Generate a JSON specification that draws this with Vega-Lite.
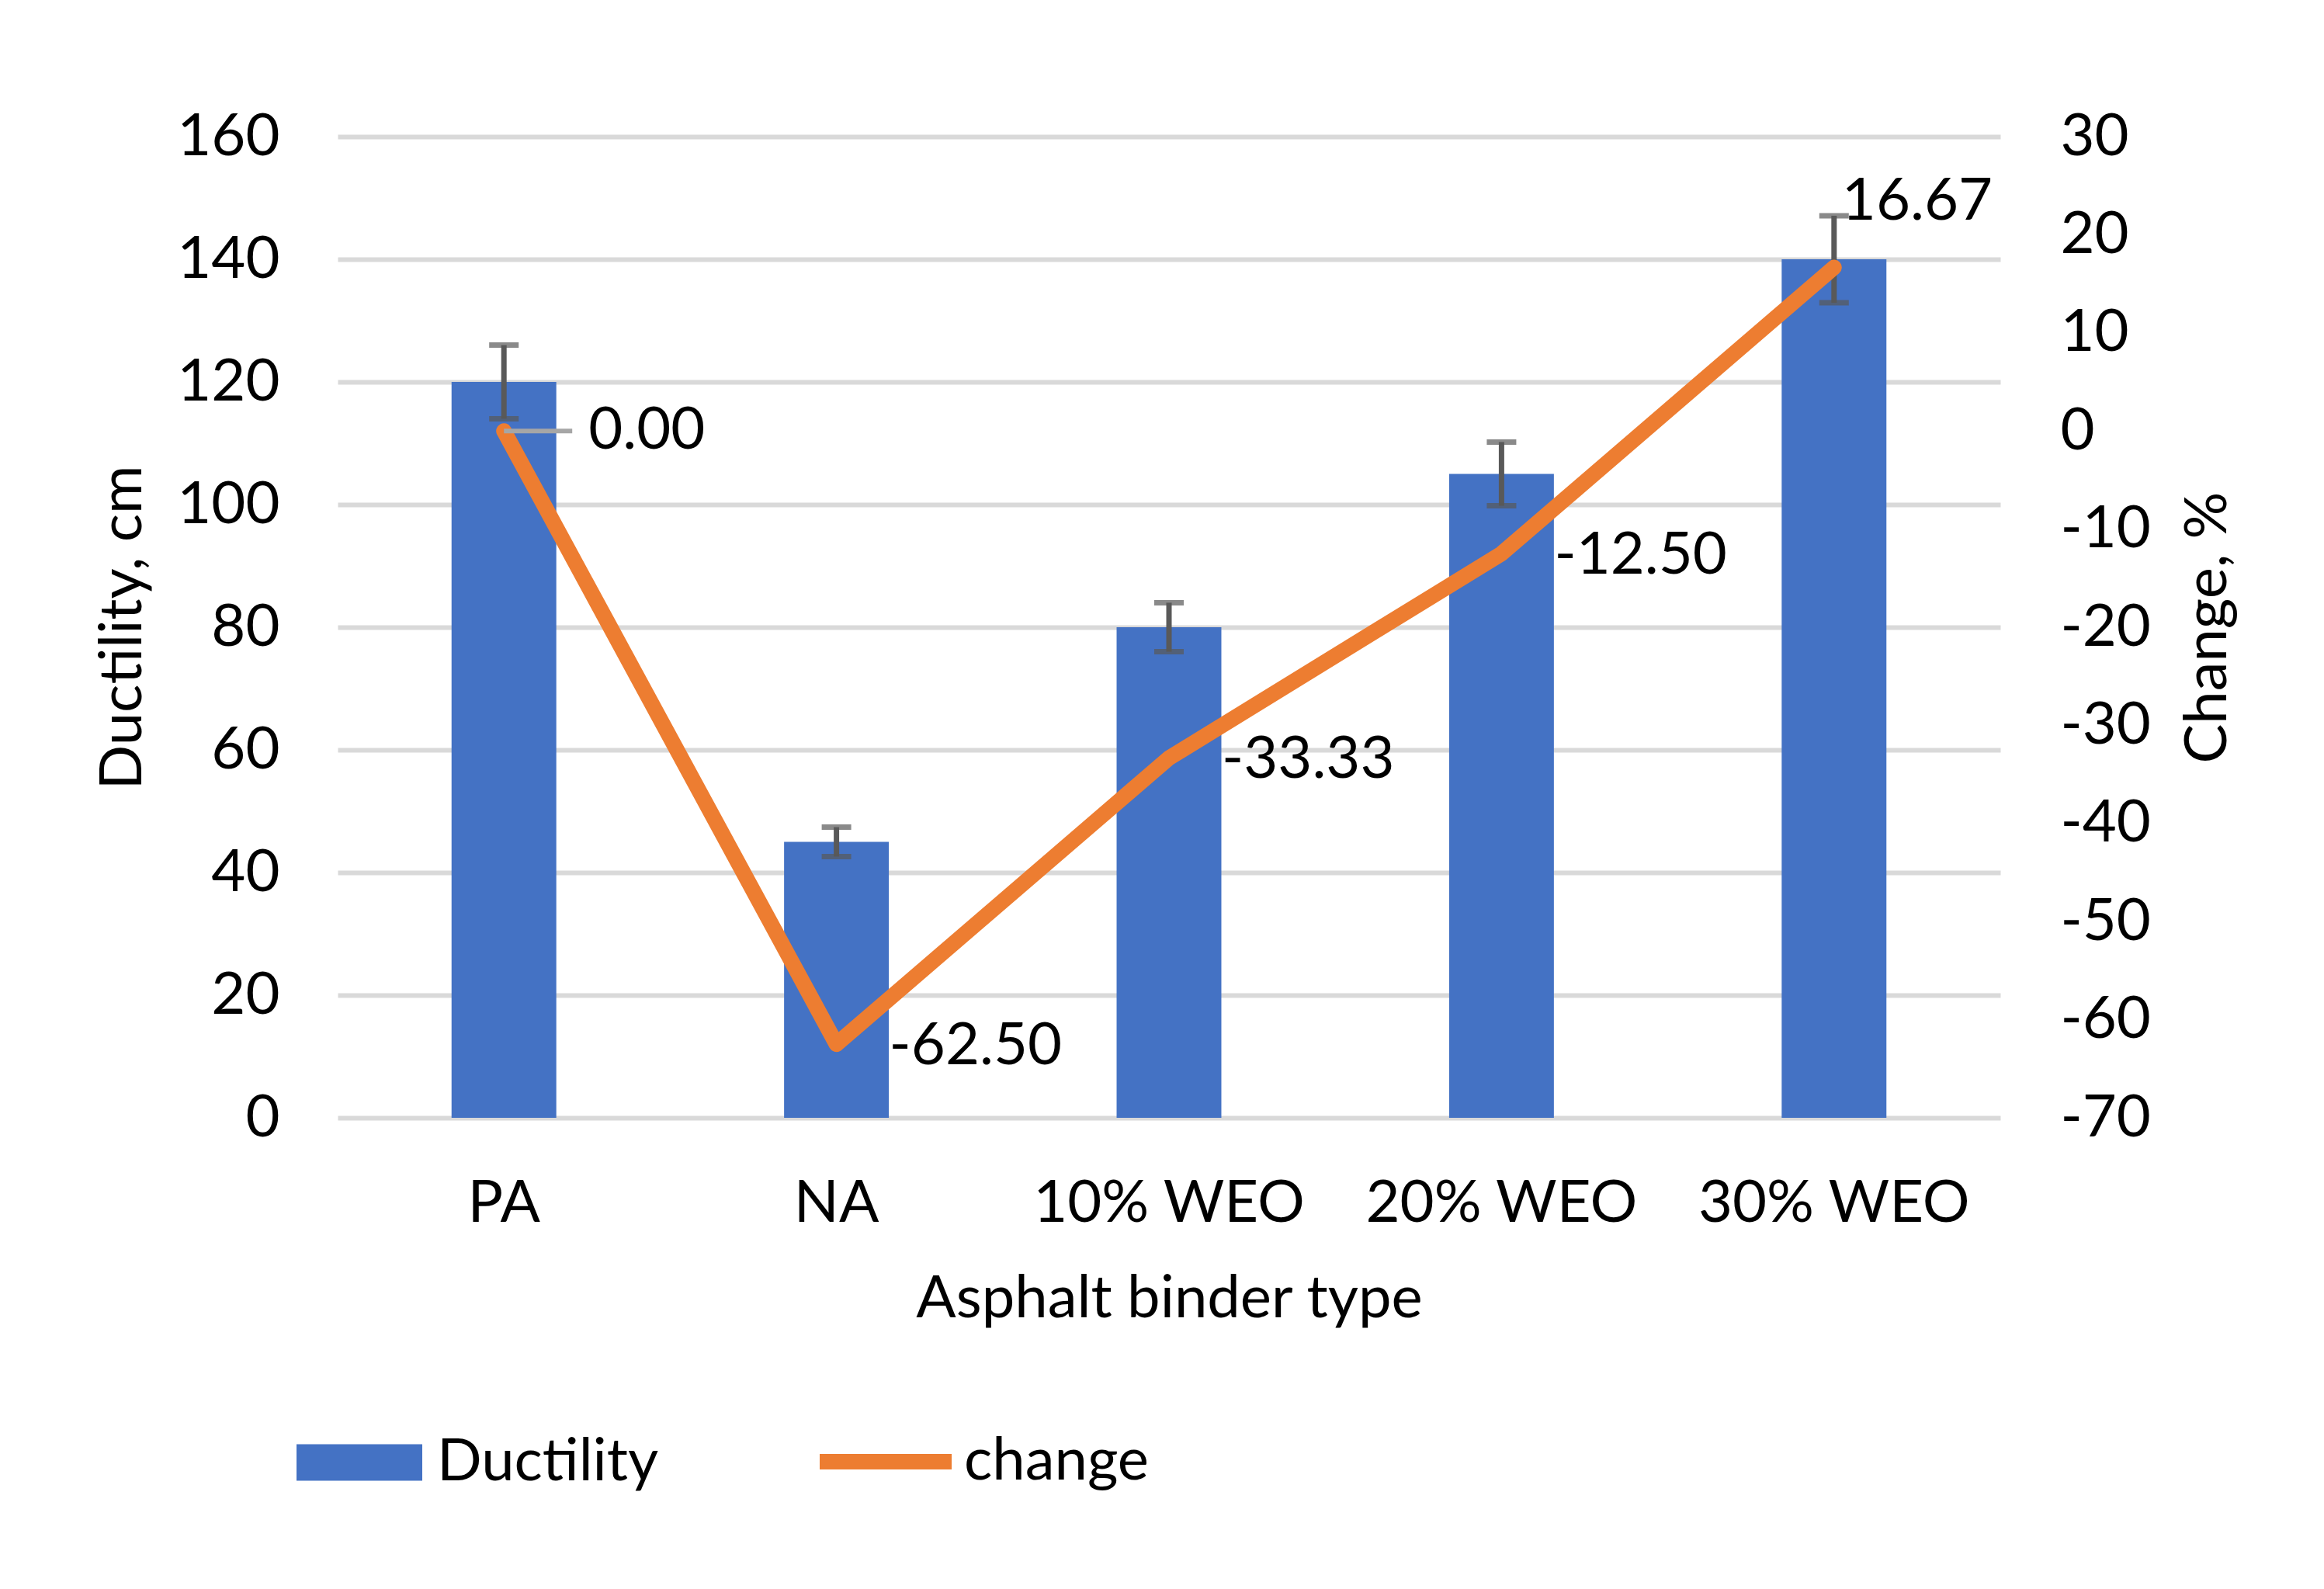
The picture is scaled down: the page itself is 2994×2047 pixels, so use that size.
{
  "$schema": "https://vega.github.io/schema/vega-lite/v6.json",
  "autosize": {"type": "none"},
  "width": 2142,
  "height": 1264,
  "padding": {"left": 435, "top": 176, "right": 417, "bottom": 607},
  "background": "white",
  "config": {
    "font": "Lato",
    "locale": {"number": {"decimal": ".", "thousands": ",", "grouping": [3], "currency": ["$", ""], "minus": "-"}},
    "view": {"stroke": null},
    "axis": {"labelFont": "Lato", "titleFont": "Lato", "labelFontSize": 76, "titleFontSize": 76, "labelColor": "#000000", "titleColor": "#000000", "titleFontWeight": "normal", "domain": false, "ticks": false, "labelLimit": 0},
    "legend": {"labelFont": "Lato", "labelFontSize": 76, "labelColor": "#000000", "labelLimit": 0}
  },
  "data": {
    "values": [
      {"type": "PA", "ductility": 120, "change": 0, "lo": 114, "hi": 126},
      {"type": "NA", "ductility": 45, "change": -62.5, "lo": 42.6, "hi": 47.4},
      {"type": "10% WEO", "ductility": 80, "change": -33.33, "lo": 76, "hi": 84},
      {"type": "20% WEO", "ductility": 105, "change": -12.5, "lo": 99.8, "hi": 110.2},
      {"type": "30% WEO", "ductility": 140, "change": 16.67, "lo": 132.9, "hi": 147.1}
    ]
  },
  "encoding": {
    "x": {
      "field": "type", "type": "nominal", "sort": null,
      "scale": {"paddingInner": 0.685, "paddingOuter": 0.3425},
      "axis": {"title": "Asphalt binder type", "labelAngle": 0, "labelPadding": 73, "titlePadding": 48, "grid": false}
    }
  },
  "layer": [
    {
      "encoding": {
        "y": {"type": "quantitative", "scale": {"domain": [0, 160]},
          "axis": {"title": "Ductility, cm", "orient": "left", "values": [0,20,40,60,80,100,120,140,160], "grid": true, "gridColor": "#D9D9D9", "gridWidth": 6, "labelPadding": 75, "titlePadding": 38}}
      },
      "layer": [
        {
          "mark": {"type": "bar", "color": "#4472C4"},
          "encoding": {
            "y": {"field": "ductility", "type": "quantitative"},
            "fill": {"datum": "Ductility", "type": "nominal", "scale": {"range": ["#4472C4"]},
              "legend": {"title": null, "orient": "none", "legendX": -53, "legendY": 1627, "direction": "horizontal", "symbolType": "M-1,-0.29H1V0.29H-1Z", "symbolSize": 26244, "symbolStrokeWidth": 0, "labelOffset": 19}}
          }
        },
        {
          "mark": {"type": "rule", "color": "#595959", "strokeWidth": 7},
          "encoding": {
            "y": {"field": "lo", "type": "quantitative"},
            "y2": {"field": "hi"}
          }
        },
        {
          "mark": {"type": "tick", "color": "#595959", "thickness": 7, "size": 38, "orient": "horizontal"},
          "encoding": {"y": {"field": "lo", "type": "quantitative"}}
        },
        {
          "mark": {"type": "tick", "color": "#595959", "thickness": 7, "size": 38, "orient": "horizontal"},
          "encoding": {"y": {"field": "hi", "type": "quantitative"}}
        }
      ]
    },
    {
      "encoding": {
        "y": {"field": "change", "type": "quantitative", "scale": {"domain": [-70, 30]},
          "axis": {"title": "Change, %", "orient": "right", "values": [-70,-60,-50,-40,-30,-20,-10,0,10,20,30], "grid": false, "labelPadding": 77, "titlePadding": 113, "titleAngle": 270}}
      },
      "layer": [
        {
          "mark": {"type": "line", "color": "#ED7D31", "strokeWidth": 20, "strokeCap": "round", "strokeJoin": "round"},
          "encoding": {
            "stroke": {"datum": "change", "type": "nominal", "scale": {"range": ["#ED7D31"]},
              "legend": {"title": null, "orient": "none", "legendX": 611, "legendY": 1612, "direction": "horizontal", "symbolType": "stroke", "symbolSize": 28900, "symbolStrokeWidth": 20, "labelOffset": 6}}
          }
        },
        {
          "transform": [{"filter": "datum.type === 'PA'"}],
          "mark": {"type": "rule", "color": "#A6A6A6", "strokeWidth": 6, "x2Offset": 88},
          "encoding": {"x2": {"field": "type"}}
        },
        {
          "transform": [{"filter": "datum.type === 'PA'"}],
          "mark": {"type": "text", "align": "left", "baseline": "middle", "dx": 109, "fontSize": 76, "color": "#000000"},
          "encoding": {"text": {"field": "change", "type": "quantitative", "format": ".2f"}}
        },
        {
          "transform": [{"filter": "datum.type !== 'PA' && datum.type !== '30% WEO'"}],
          "mark": {"type": "text", "align": "left", "baseline": "middle", "dx": 68, "dy": 3, "fontSize": 76, "color": "#000000"},
          "encoding": {"text": {"field": "change", "type": "quantitative", "format": ".2f"}}
        },
        {
          "transform": [{"filter": "datum.type === '30% WEO'"}],
          "mark": {"type": "text", "align": "left", "baseline": "middle", "dx": 10, "dy": -84, "fontSize": 76, "color": "#000000"},
          "encoding": {"text": {"field": "change", "type": "quantitative", "format": ".2f"}}
        }
      ]
    }
  ],
  "resolve": {"scale": {"y": "independent", "fill": "independent", "stroke": "independent"}}
}
